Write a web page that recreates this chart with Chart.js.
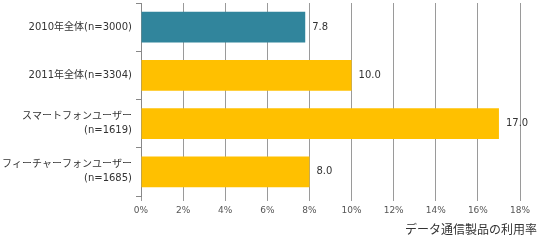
<!DOCTYPE html>
<html>
<head>
<meta charset="utf-8">
<script src="https://cdn.jsdelivr.net/npm/chart.js@4"></script>
<style>
  html, body { margin: 0; padding: 0; background: #fff; }
  #wrap { width: 550px; height: 245px; }
</style>
</head>
<body>
<div id="wrap"><canvas id="usageChart" width="550" height="245"></canvas></div>
<script>
// categories and values
let categories = [
    "2010年全体(n=3000)",
    "2011年全体(n=3304)",
    ["スマートフォンユーザー", "(n=1619)"],
    ["フィーチャーフォンユーザー", "(n=1685)"]
]
let usageRate = [7.8, 10.0, 17.0, 8.0]
let barColors = ["#31859c", "#ffc000", "#ffc000", "#ffc000"]
let axisTitle = "データ通信製品の利用率"

let jpFont = "'DejaVu Sans', 'Noto Sans CJK JP', sans-serif"

// draws value labels next to each bar end, plus the axis title
let valueLabels = {
    id: "valueLabels",
    afterDatasetsDraw(chart) {
        let ctx = chart.ctx
        let meta = chart.getDatasetMeta(0)
        ctx.save()
        ctx.font = "10px " + jpFont
        ctx.fillStyle = "#333"
        ctx.textBaseline = "middle"
        ctx.textAlign = "left"
        meta.data.forEach(function(bar, i) {
            ctx.fillText(usageRate[i].toFixed(1), bar.x + 7, bar.y)
        })
        ctx.font = "12px 'Noto Sans CJK JP', sans-serif"
        ctx.textAlign = "right"
        ctx.fillStyle = "#333"
        ctx.fillText(axisTitle, 537, 229)
        ctx.restore()
    }
}

let ctx = document.getElementById("usageChart").getContext("2d")
let usageChart = new Chart(ctx, {
    type: "bar",
    data: {
        labels: categories,
        datasets: [{
            data: usageRate,
            backgroundColor: barColors,
            borderWidth: 0,
            barPercentage: 0.8,
            categoryPercentage: 0.8
        }]
    },
    options: {
        indexAxis: "y",
        responsive: false,
        animation: false,
        layout: { padding: { top: 3, right: 30, left: 0, bottom: 0 } },
        plugins: {
            legend: { display: false },
            tooltip: { enabled: false }
        },
        scales: {
            x: {
                min: 0,
                max: 18,
                ticks: {
                    stepSize: 2,
                    callback: v => v + "%",
                    font: { size: 9, family: jpFont },
                    color: "#555",
                    padding: 4
                },
                grid: { color: "#9a9a9a", tickLength: 5 },
                border: { display: false },
                afterFit: s => { s.height = 49 }
            },
            y: {
                ticks: {
                    font: { size: 10, family: jpFont, lineHeight: 1.4 },
                    color: "#333",
                    padding: 4
                },
                grid: { drawOnChartArea: false, color: "#888", tickLength: 5, offset: true },
                border: { display: true, color: "#888" },
                afterFit: s => {
                    s.width = 141
                    s.paddingTop = 0
                    s.paddingBottom = 0
                }
            }
        }
    },
    plugins: [valueLabels]
})
</script>
</body>
</html>
